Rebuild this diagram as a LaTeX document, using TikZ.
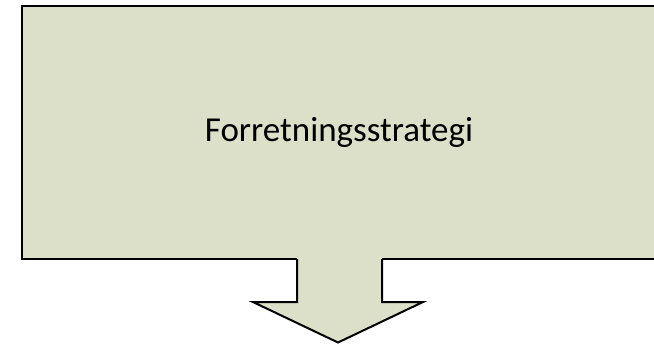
\documentclass[tikz,border=0pt]{standalone}
\usepackage{fontspec}
\setmainfont{Carlito}
\definecolor{boxfill}{RGB}{221,224,201}
\begin{document}
\begin{tikzpicture}[x=1pt,y=-1pt,
  outline/.style={draw=black,line width=2pt},
  strategybox/.style={outline,fill=boxfill,rectangle,inner sep=0pt,minimum width=634pt,minimum height=252.5pt,font=\fontsize{35}{42}\selectfont}]
\useasboundingbox (0,0) rectangle (654,345);
\clip (0,0) rectangle (654,345);
\node[strategybox] (box) at (339,132.75) {Forretningsstrategi};
\coordinate (sl) at (297,259);
\coordinate (sr) at (382,259);
\fill[boxfill] (297,256) -- (297,302) -- (253,302) -- (338,343) -- (423,302) -- (382,302) -- (382,256) -- cycle;
\draw[outline,line join=miter] (sl) -- (297,302) -- (253,302) -- (338,342.5) -- (423,302) -- (382,302) -- (sr);
\end{tikzpicture}
\end{document}
